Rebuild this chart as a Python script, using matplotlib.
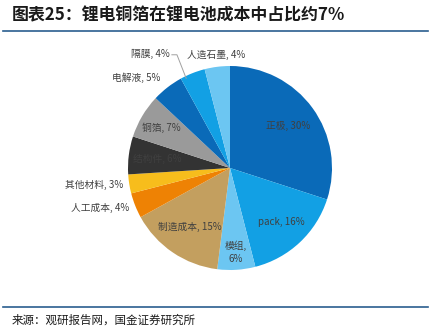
import numpy as np
import matplotlib
matplotlib.use("Agg")
import matplotlib.pyplot as plt

plt.rcParams['font.family'] = ['Noto Sans CJK SC', 'DejaVu Sans']

labels = ["正极", "pack", "模组", "制造成本", "人工成本", "其他材料",
          "结构件", "铜箔", "电解液", "隔膜", "人造石墨"]
values = [30, 16, 6, 15, 4, 3, 6, 7, 5, 4, 4]
colors = ["#0a6ab8", "#12a0e4", "#6cc6f2", "#c39f5f", "#ee8204", "#f7bd1c",
          "#333333", "#9a9a9a", "#0a6ab8", "#12a0e4", "#6cc6f2"]

W, H = 431, 331
fig = plt.figure(figsize=(W / 100, H / 100), dpi=100)

# pie axes: center (230,168) px, radius 102 px
cx, cy, R = 230, 168, 102
ax = fig.add_axes([(cx - R) / W, 1 - (cy + R) / H, 2 * R / W, 2 * R / H])
ax.pie(values, colors=colors, startangle=90, counterclock=False, radius=1,
       wedgeprops=dict(linewidth=0))
ax.set_xlim(-1, 1)
ax.set_ylim(-1, 1)
ax.set_aspect("equal")
ax.axis("off")

# label placement: (radius, ha) per slice
place = {
    "正极": (0.70, "center"), "pack": (0.73, "center"), "模组": (0.83, "center"),
    "制造成本": (0.70, "center"), "人工成本": (1.06, "right"),
    "其他材料": (1.06, "right"), "结构件": (0.72, "center"),
    "铜箔": (0.78, "center"), "电解液": (1.12, "right"),
    "隔膜": (1.4, "right"), "人造石墨": (1.1, "left"),
}
tc = "#404040"
cum = np.cumsum([0] + values[:-1])
for lab, v, c0 in zip(labels, values, cum):
    ang = np.deg2rad(90 - (c0 + v / 2) / 100 * 360)
    r, ha = place[lab]
    x, y = r * np.cos(ang), r * np.sin(ang)
    txt = f"{lab}, {v}%"
    if lab == "模组":
        txt = f"{lab},\n{v}%"
    if lab == "隔膜":
        x, y = -0.59, 1.12
        ax.plot([-0.57, -0.52, -0.43], [1.11, 1.11, 0.88], color="#a0a0a0", lw=0.7,
                clip_on=False)
    if lab == "人造石墨":
        x, y = -0.42, 1.11
    ax.text(x, y, txt, ha=ha, va="center", fontsize=7, color=tc,
            linespacing=1.4, clip_on=False)

# title and rules
fig.text(12 / W, 1 - 15 / H, "图表25：锂电铜箔在锂电池成本中占比约7%", fontsize=12.2,
         fontweight="bold", color="#1a1a1a", va="center", ha="left")
fig.add_artist(plt.Line2D([0.007, 0.993], [1 - 31 / H] * 2, color="#2a5d8f", lw=1.2))
fig.add_artist(plt.Line2D([0.007, 0.993], [1 - 307 / H] * 2, color="#2a5d8f", lw=1.2))
fig.text(12 / W, 1 - 320 / H, "来源：观研报告网，国金证券研究所", fontsize=8.3,
         color="#1a1a1a", va="center", ha="left")

fig.savefig("out.png", dpi=100)
